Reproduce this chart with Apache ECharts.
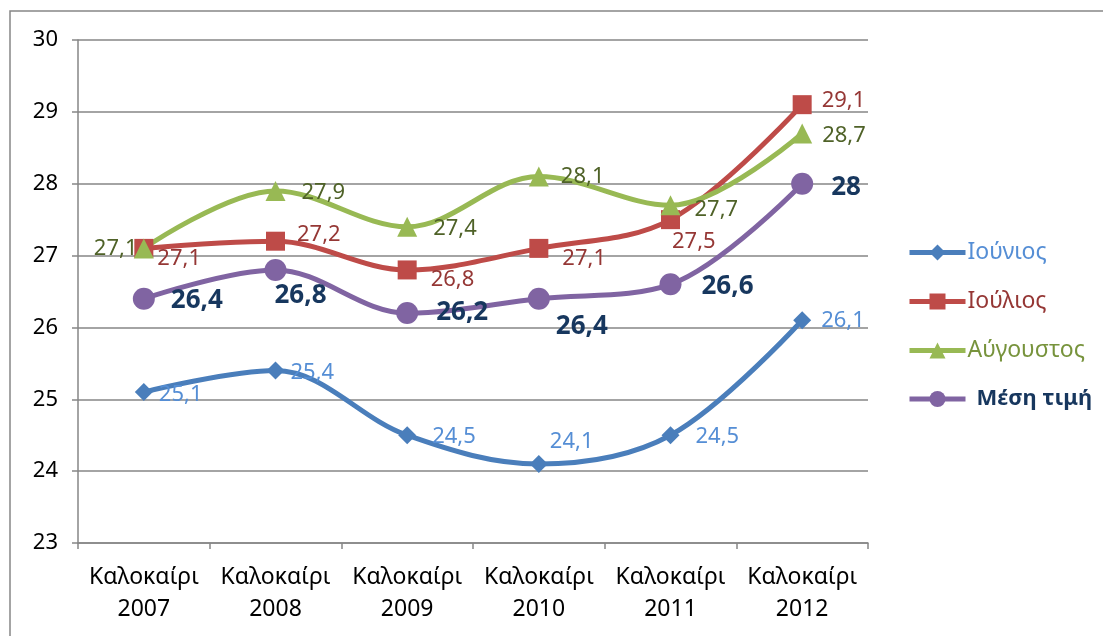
<!DOCTYPE html>
<html>
<head>
<meta charset="utf-8">
<script src="https://cdn.jsdelivr.net/npm/echarts@6/dist/echarts.min.js"></script>
<style>
  html, body { margin: 0; padding: 0; background: #fff; }
  #chart { width: 1103px; height: 636px; }
</style>
</head>
<body>
<div id="chart"></div>
<script>
const categories = ['Καλοκαίρι\n2007', 'Καλοκαίρι\n2008', 'Καλοκαίρι\n2009', 'Καλοκαίρι\n2010', 'Καλοκαίρι\n2011', 'Καλοκαίρι\n2012']
const june = [25.1, 25.4, 24.5, 24.1, 24.5, 26.1]
const july = [27.1, 27.2, 26.8, 27.1, 27.5, 29.1]
const august = [27.1, 27.9, 27.4, 28.1, 27.7, 28.7]
const mean = [26.4, 26.8, 26.2, 26.4, 26.6, 28]
const yTicks = [23, 24, 25, 26, 27, 28, 29, 30]

// label nudges per point, [dx, dy]
const juneOff = [[0, 3], [0, 2], [10, 2], [-4, -22], [10, 2], [4, 0]]
const julyOff = [[-2, 10], [6, -6], [8, 10], [8, 10], [-14, 22], [4, -4]]
const augOff = [[-66, 0], [10, 2], [10, 2], [6, 0], [8, 4], [4, 2]]
const meanOff = [[10, 2], [-18, 26], [12, 0], [0, 28], [14, 2], [12, 4]]

const myChart = echarts.init(document.getElementById('chart'))
const font = '"Noto Sans", "DejaVu Sans", sans-serif'
const gridColor = '#868686'

function fmt(v){
  return String(v).replace('.', ',')
}

function makeSeries(name, values, offsets, color, symbol, size, label){
  return {
    name: name,
    type: 'line',
    smooth: 0.35,
    symbol: symbol,
    symbolSize: size,
    data: values.map((v, i) => ({
      value: v,
      label: { offset: offsets[i] }
    })),
    lineStyle: { color: color, width: 5 },
    itemStyle: { color: color },
    label: Object.assign({
      show: true,
      position: 'right',
      distance: 6,
      fontFamily: font,
      formatter: p => fmt(p.value)
    }, label),
    emphasis: { disabled: true },
    z: 3
  }
}

let options = {
  animation: false,
  textStyle: { fontFamily: font },
  graphic: [{
    type: 'rect',
    shape: { x: 10, y: 11, width: 1110, height: 640 },
    style: { fill: 'none', stroke: gridColor, lineWidth: 1.5 },
    silent: true
  }],
  grid: {
    left: 78,
    right: 235,
    top: 40,
    bottom: 93
  },
  legend: {
    orient: 'vertical',
    left: 902,
    top: 236,
    itemGap: 26,
    itemWidth: 56,
    itemHeight: 20,
    lineStyle: { width: 5 },
    textStyle: { fontFamily: font, fontSize: 23, padding: [0, 0, 0, -3] },
    data: [
      { name: 'Ιούνιος', textStyle: { color: '#558ed5' } },
      { name: 'Ιούλιος', textStyle: { color: '#953735' } },
      { name: 'Αύγουστος', textStyle: { color: '#77933c' } },
      { name: 'Μέση τιμή', textStyle: { color: '#17375e', fontWeight: 'bold', fontSize: 22, padding: [0, 0, 0, 6] } }
    ]
  },
  xAxis: {
    type: 'category',
    data: categories,
    boundaryGap: true,
    axisLine: { show: true, lineStyle: { color: gridColor, width: 1.5 } },
    axisTick: { show: true, interval: 0, length: 6, lineStyle: { color: gridColor, width: 1.5 } },
    axisLabel: {
      interval: 0,
      color: '#000',
      fontSize: 23,
      lineHeight: 32,
      margin: 18,
      fontFamily: font
    }
  },
  yAxis: {
    type: 'value',
    min: yTicks[0],
    max: yTicks[yTicks.length - 1],
    interval: 1,
    axisLine: { show: true, lineStyle: { color: gridColor, width: 1.5 } },
    axisTick: { show: true, length: 6, lineStyle: { color: gridColor, width: 1.5 } },
    splitLine: { show: true, lineStyle: { color: gridColor, width: 1.5 } },
    axisLabel: { color: '#000', fontSize: 22, margin: 20, fontFamily: font }
  },
  series: [
    makeSeries('Ιούνιος', june, juneOff, '#4a7ebb', 'diamond', 18, { color: '#558ed5', fontSize: 22 }),
    makeSeries('Ιούλιος', july, julyOff, '#be4b48', 'rect', 19, { color: '#953735', fontSize: 22 }),
    makeSeries('Αύγουστος', august, augOff, '#98b954', 'triangle', 20, { color: '#4f6228', fontSize: 22 }),
    makeSeries('Μέση τιμή', mean, meanOff, '#8064a2', 'circle', 22, { color: '#17375e', fontSize: 26, fontWeight: 'bold' })
  ]
}
myChart.setOption(options)
</script>
</body>
</html>
